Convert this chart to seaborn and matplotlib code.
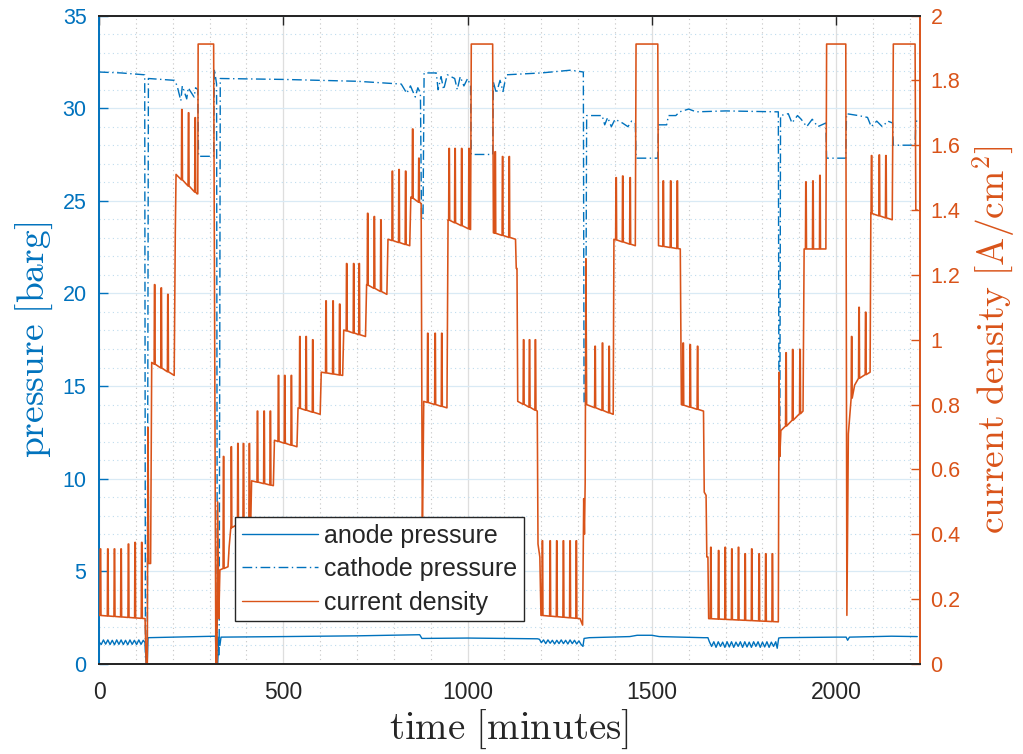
import numpy as np
import pandas as pd
import seaborn as sns
import matplotlib
matplotlib.use("Agg")
import matplotlib.pyplot as plt
from matplotlib.lines import Line2D
from matplotlib.ticker import MultipleLocator, FormatStrFormatter

# --- data (time in minutes) ---

# current density skeleton [A/cm2]
cd_t = [0, 125, 128, 131, 133, 135, 140, 143, 204, 207, 209, 266, 268, 269, 311, 317, 320,
        322, 325, 328, 350, 353, 358, 412, 414, 473, 476, 537, 540, 600, 603, 661, 664, 723,
        726, 781, 784, 843, 846, 874, 877, 878, 881, 944, 947, 1008, 1010, 1068, 1070, 1130,
        1132, 1134, 1136, 1189, 1191, 1196, 1199, 1305, 1312, 1315, 1317, 1319, 1321, 1323,
        1395, 1397, 1455, 1457, 1516, 1518, 1577, 1580, 1640, 1642, 1647, 1649, 1652, 1654,
        1843, 1845, 1847, 1850, 1910, 1913, 1972, 1974, 2026, 2029, 2033, 2040, 2050, 2060,
        2092, 2094, 2152, 2155, 2214, 2216, 2220]
cd_j = [0.15, 0.14, 0.0, 0.0, 0.73, 0.31, 0.31, 0.93, 0.89, 1.33, 1.51, 1.45, 1.45, 1.912,
        1.912, 0.0, 0.0, 0.50, 0.14, 0.29, 0.30, 0.36, 0.42, 0.45, 0.565, 0.55, 0.69, 0.67,
        0.79, 0.77, 0.90, 0.89, 1.03, 1.01, 1.17, 1.14, 1.31, 1.29, 1.44, 1.42, 0.45, 0.45,
        0.81, 0.79, 1.37, 1.34, 1.912, 1.912, 1.33, 1.31, 1.22, 1.22, 0.81, 0.78, 0.37, 0.33,
        0.15, 0.14, 0.12, 0.51, 0.40, 0.56, 1.25, 0.80, 0.77, 1.31, 1.29, 1.912, 1.912, 1.29,
        1.28, 0.80, 0.78, 0.53, 0.52, 0.33, 0.33, 0.14, 0.13, 0.90, 0.64, 0.72, 0.78, 1.28,
        1.28, 1.912, 1.912, 0.15, 0.71, 0.81, 0.86, 0.88, 0.90, 1.39, 1.37, 1.912, 1.912,
        1.40, 1.40]

# short current pulses: time and peak value
spike_t = [4, 24, 42, 60, 80, 98, 116,
           151, 169, 187,
           225, 243, 261,
           338, 359, 377, 392, 408,
           430, 448, 465,
           487, 504, 522,
           545, 562, 580,
           616, 635, 653,
           672, 691, 706,
           729, 747, 765,
           796, 814, 832, 851, 868,
           892, 912, 930,
           950, 966, 984, 1004,
           1075, 1095, 1113,
           1152, 1168, 1184,
           1203, 1224, 1242, 1260, 1278, 1295,
           1346, 1366, 1384,
           1403, 1421, 1441,
           1531, 1551, 1569,
           1585, 1604, 1624,
           1660, 1681, 1699, 1717, 1735, 1753, 1771, 1791, 1809, 1827,
           1864, 1882, 1902,
           1918, 1937, 1956,
           2042, 2062, 2080,
           2096, 2117, 2135]
spike_j = [0.355, 0.355, 0.355, 0.355, 0.37, 0.375, 0.375,
           1.17, 1.16, 1.14,
           1.71, 1.70, 1.685,
           0.64, 0.67, 0.68, 0.68, 0.68,
           0.78, 0.78, 0.78,
           0.89, 0.89, 0.89,
           1.01, 1.01, 1.00,
           1.12, 1.12, 1.11,
           1.235, 1.235, 1.235,
           1.39, 1.38, 1.37,
           1.52, 1.525, 1.52, 1.65, 1.56,
           1.02, 1.02, 1.02,
           1.59, 1.59, 1.59, 1.59,
           1.58, 1.565, 1.565,
           1.00, 1.00, 1.00,
           0.38, 0.38, 0.38, 0.38, 0.38, 0.38,
           0.98, 0.99, 0.98,
           1.50, 1.505, 1.50,
           1.49, 1.49, 1.49,
           0.99, 0.985, 0.98,
           0.36, 0.35, 0.36, 0.355, 0.36, 0.34, 0.355, 0.34, 0.34, 0.34,
           0.96, 0.97, 0.97,
           1.487, 1.49, 1.507,
           1.01, 1.10, 1.085,
           1.568, 1.57, 1.568]

# cathode pressure [barg]
cat_t = [0, 60, 124, 126, 131, 134, 205, 212, 222, 226, 238, 242, 258, 262, 268, 270, 311,
         313, 319, 321, 326, 329, 500, 700, 820, 835, 845, 858, 865, 872, 875, 879, 882, 915,
         920, 928, 935, 945, 965, 972, 980, 990, 1000, 1008, 1010, 1068, 1070, 1078, 1088,
         1096, 1105, 1200, 1280, 1314, 1316, 1320, 1323, 1365, 1372, 1380, 1390, 1400, 1420,
         1435, 1445, 1455, 1457, 1516, 1518, 1540, 1545, 1565, 1575, 1600, 1620, 1700, 1843,
         1845, 1847, 1849, 1870, 1880, 1895, 1905, 1920, 1935, 1950, 1972, 1974, 2026, 2028,
         2060, 2085, 2095, 2110, 2125, 2140, 2153, 2155, 2214, 2216, 2220]
cat_p = [31.95, 31.9, 31.8, 0.3, 0.3, 31.6, 31.5, 31.2, 30.4, 31.2, 30.5, 31.1, 30.6, 31.1,
         31.0, 27.4, 27.4, 32.1, 31.3, 0.5, 0.5, 31.6, 31.55, 31.45, 31.3, 30.8, 31.2, 30.6,
         31.1, 30.8, 24.0, 24.0, 31.9, 31.9, 31.0, 31.7, 31.0, 31.8, 31.6, 31.0, 31.7, 31.2,
         31.6, 31.2, 27.5, 27.5, 31.4, 30.8, 31.5, 30.9, 31.8, 31.9, 32.05, 31.95, 14.0, 14.0,
         29.6, 29.6, 29.1, 29.5, 29.0, 29.4, 29.2, 29.0, 29.3, 29.2, 27.3, 27.3, 29.1, 29.1,
         29.6, 29.6, 29.8, 29.95, 29.8, 29.85, 29.8, 11.0, 11.0, 29.6, 29.7, 29.2, 29.6, 29.4,
         29.0, 29.4, 29.0, 29.2, 27.3, 27.3, 29.7, 29.6, 29.5, 29.0, 29.3, 29.0, 29.3, 29.2,
         28.0, 28.0, 29.3, 29.3]

# anode pressure [barg]
an_t = [0, 6, 12, 18, 24, 30, 36, 42, 48, 54, 60, 66, 72, 78, 84, 90, 96, 102, 108, 114, 120,
        125, 128, 131, 133, 316, 318, 322, 325, 328, 331, 500, 700, 870, 876, 1000, 1190,
        1195, 1200, 1206, 1212, 1218, 1224, 1230, 1236, 1242, 1248, 1254, 1260, 1266, 1272,
        1278, 1284, 1290, 1296, 1302, 1308, 1313, 1316, 1330, 1440, 1460, 1500, 1520, 1640,
        1652, 1656, 1662, 1668, 1674, 1680, 1686, 1692, 1698, 1704, 1710, 1716, 1722, 1728,
        1734, 1740, 1746, 1752, 1758, 1764, 1770, 1776, 1782, 1788, 1794, 1800, 1806, 1812,
        1818, 1824, 1830, 1836, 1840, 1844, 1850, 2000, 2027, 2031, 2036, 2150, 2220]
an_p = [1.2, 1.05, 1.3, 1.07, 1.3, 1.05, 1.28, 1.04, 1.3, 1.06, 1.3, 1.05, 1.28, 1.04, 1.3,
        1.06, 1.28, 1.05, 1.3, 1.06, 1.28,
        1.15, 0.0, 0.0, 1.42, 1.5, 0.0, 0.0, 1.45, 1.0, 1.45, 1.48, 1.52, 1.58, 1.38, 1.4, 1.36,
        1.33, 1.15, 1.3, 1.1, 1.3, 1.12, 1.28, 1.08, 1.28, 1.1, 1.3, 1.1, 1.28, 1.08,
        1.3, 1.1, 1.28, 1.08, 1.25, 1.05, 0.95, 1.38, 1.42, 1.48, 1.55, 1.55, 1.48, 1.42,
        1.42, 1.2, 0.95, 1.2, 0.9, 1.2, 0.95, 1.18, 0.9, 1.2, 0.92, 1.2, 0.9, 1.18,
        0.95, 1.2, 0.9, 1.2, 0.92, 1.18, 0.9, 1.2, 0.95, 1.2, 0.9, 1.18, 0.92, 1.2,
        0.9, 1.18, 0.95, 1.2, 0.85, 1.4, 1.42, 1.45, 1.45, 1.28, 1.45, 1.5, 1.48]

BLUE = "#0072BD"
ORANGE = "#D95319"
DARK = "#262626"


def add_spikes(base_t, base_v, sp_t, sp_v, half=0.6, foot=1.4):
    # put each narrow pulse on top of the stepped base line
    t = list(base_t)
    v = list(base_v)
    for ts, vs in zip(sp_t, sp_v):
        b = float(np.interp(ts, base_t, base_v))
        t += [ts - foot, ts - half, ts + half, ts + foot]
        v += [b, vs, vs, b]
    order = np.argsort(t, kind="stable")
    return np.asarray(t)[order], np.asarray(v)[order]


ct, cj = add_spikes(cd_t, cd_j, spike_t, spike_j)
cur_df = pd.DataFrame({"time": ct, "j": cj})
an_df = pd.DataFrame({"time": an_t, "p": an_p})
cat_df = pd.DataFrame({"time": cat_t, "p": cat_p})

sns.set_style("white")
plt.rcParams["font.family"] = ["Liberation Sans", "DejaVu Sans"]
plt.rcParams["mathtext.fontset"] = "cm"

fig = plt.figure(figsize=(10.23, 7.54), dpi=100)
ax = fig.add_axes([99 / 1023, 90 / 754, 820.5 / 1023, 648.5 / 754])
ax2 = ax.twinx()

sns.lineplot(data=an_df, x="time", y="p", ax=ax, color=BLUE, lw=1.0,
             sort=False, estimator=None)
sns.lineplot(data=cat_df, x="time", y="p", ax=ax, color=BLUE, lw=1.0,
             sort=False, estimator=None)
ax.lines[-1].set_dashes([7, 2.5, 1, 2.5])
sns.lineplot(data=cur_df, x="time", y="j", ax=ax2, color=ORANGE, lw=1.15,
             sort=False, estimator=None)

ax.set_xlim(0, 2226)
ax.set_ylim(0, 35)
ax2.set_ylim(0, 2)

ax.xaxis.set_major_locator(MultipleLocator(500))
ax.xaxis.set_minor_locator(MultipleLocator(100))
ax.yaxis.set_major_locator(MultipleLocator(5))
ax.yaxis.set_minor_locator(MultipleLocator(1))
ax2.yaxis.set_major_locator(MultipleLocator(0.2))
ax2.yaxis.set_major_formatter(FormatStrFormatter("%g"))

# MATLAB-like grid: bluish horizontal, gray vertical
ax.set_axisbelow(True)
ax.grid(True, which="major", axis="x", color="#DEDEDE", lw=0.9)
ax.grid(True, which="minor", axis="x", color="#C4C4C4", lw=0.8, ls=(0, (1, 3)))
ax.grid(True, which="major", axis="y", color="#D9EAF5", lw=0.9)
ax.grid(True, which="minor", axis="y", color="#BFDCEE", lw=0.8, ls=(0, (1, 3)))

ax.tick_params(axis="x", which="major", direction="in", length=6.5, width=1,
               colors=DARK, labelsize=16.5, pad=12, top=True)
ax.tick_params(axis="y", which="major", direction="in", length=6.5, width=1,
               colors=BLUE, labelsize=15.5, pad=9)
ax.tick_params(which="minor", length=0)
ax2.tick_params(axis="y", which="major", direction="in", length=6.5, width=1,
                colors=ORANGE, labelsize=15.5, pad=8)

for s in ["top", "bottom"]:
    ax.spines[s].set_color(DARK)
    ax2.spines[s].set_color(DARK)
ax.spines["left"].set_color(BLUE)
ax.spines["right"].set_visible(False)
ax2.spines["left"].set_visible(False)
ax2.spines["right"].set_color(ORANGE)
for a in (ax, ax2):
    for s in a.spines.values():
        s.set_linewidth(1.4)

ax.set_xlabel(r"$\mathrm{time\ [minutes]}$", fontsize=28, color=DARK, labelpad=3)
ax.set_ylabel(r"$\mathrm{pressure\ [barg]}$", fontsize=27, color=BLUE, labelpad=5)
ax2.set_ylabel(r"$\mathrm{current\ density\ [A/cm^2]}$", fontsize=27, color=ORANGE,
               labelpad=7)

handles = [Line2D([], [], color=BLUE, lw=1.0),
           Line2D([], [], color=BLUE, lw=1.0, dashes=[7, 2.5, 1, 2.5]),
           Line2D([], [], color=ORANGE, lw=1.0)]
labels = ["anode pressure", "cathode pressure", "current density"]
leg = ax2.legend(handles, labels, loc="upper left", bbox_to_anchor=(0.1658, 0.2267),
                 borderaxespad=0, fontsize=18, frameon=True, fancybox=False,
                 framealpha=1, edgecolor=DARK, handlelength=3.05, handletextpad=0.25,
                 labelspacing=0.38, borderpad=0.27)
leg.get_frame().set_linewidth(1.0)

fig.savefig("out.png", dpi=100)
